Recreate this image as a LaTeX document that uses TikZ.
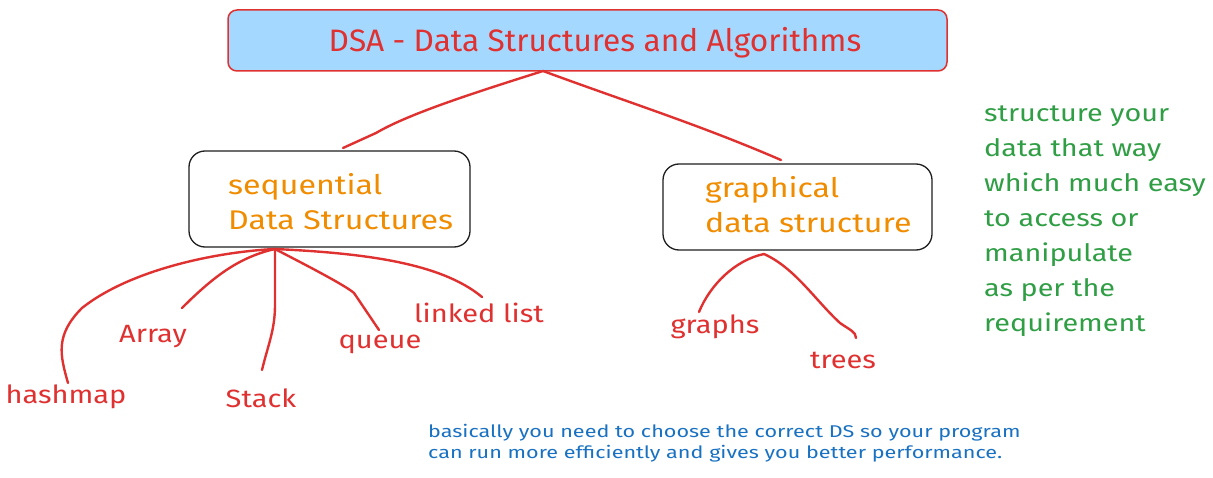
\documentclass[tikz,border=0pt]{standalone}
\usepackage{fontspec}
\setmainfont{Fira Sans}
\newfontfamily\titlefam[FakeStretch=1.02]{Fira Sans}
\newfontfamily\catfam[FakeStretch=1.19]{Fira Sans}
\newfontfamily\leaffam[FakeStretch=1.16]{Fira Sans}
\newfontfamily\notefam[FakeStretch=1.2]{Fira Sans}
\newfontfamily\remarkfam[FakeStretch=1.27]{Fira Sans}
\definecolor{exred}{HTML}{E03131}
\definecolor{exblue}{HTML}{A5D8FF}
\definecolor{exorange}{HTML}{F08C00}
\definecolor{exgreen}{HTML}{2F9E44}
\definecolor{exdblue}{HTML}{1971C2}
\definecolor{exblack}{HTML}{1E1E1E}
\begin{document}
\begin{tikzpicture}[x=1pt,y=-1pt,
  titlebox/.style={draw=exred,fill=exblue,line width=1.5pt,rounded corners=9pt,minimum width=719pt,minimum height=61pt,inner sep=0pt},
  catbox/.style={draw=exblack,line width=1.3pt,rounded corners=16pt,inner sep=0pt},
  cattext/.style={text=exorange,font=\catfam\fontsize{27}{35}\selectfont,align=left,anchor=north west,inner sep=0pt},
  leaf/.style={text=exred,font=\leaffam\fontsize{25}{28}\selectfont,inner sep=0pt},
  conn/.style={draw=exred,line width=2.4pt,line cap=round,line join=round},
  note/.style={text=exgreen,font=\notefam\fontsize{24}{35}\selectfont,align=left,anchor=north west,inner sep=0pt},
  remark/.style={text=exdblue,font=\remarkfam\fontsize{17}{21}\selectfont,align=left,anchor=north west,inner sep=0pt}]
\useasboundingbox (0,0) rectangle (1213,478);
\fill[white] (0,0) rectangle (1213,478);
% title
\node[titlebox] (title) at (587.5,40.5) {};
\node[text=exred,font=\titlefam\fontsize{31}{34}\selectfont,inner sep=0pt] (titletxt) at (595,43) {DSA - Data Structures and Algorithms};
% category boxes
\node[catbox,minimum width=281pt,minimum height=96pt] (seq) at (329.5,199) {};
\node[cattext] (seqtxt) at (228,173) {sequential\\Data Structures};
\node[catbox,minimum width=269pt,minimum height=86pt] (gra) at (797.5,207) {};
\node[cattext] (gratxt) at (705,176) {graphical\\data structure};
% coordinates
\coordinate (ts) at (543,71);
\coordinate (seqtop) at (343,148);
\coordinate (gratop) at (781,160);
\coordinate (sb) at (275,249);
\coordinate (gb) at (764,254);
% title connectors
\draw[conn] (ts) .. controls (480,91) and (410,113) .. (376,133) -- (seqtop);
\draw[conn] (ts) .. controls (630,103) and (700,125) .. (gratop);
% leaves
\node[leaf] (hash) at (66,397) {hashmap};
\node[leaf] (arr) at (153,337) {Array};
\node[leaf] (stack) at (261,398) {Stack};
\node[leaf] (queue) at (380,344) {queue};
\node[leaf] (ll) at (479,313) {linked list};
\node[leaf] (graphs) at (715,327) {graphs};
\node[leaf] (trees) at (843,360) {trees};
\coordinate (hashend) at (68,383);
\coordinate (arrend) at (182,308);
\coordinate (stackend) at (262,370);
\coordinate (queueend) at (379,330);
\coordinate (llend) at (482,297);
\coordinate (graphsend) at (699,312);
\coordinate (treesend) at (856,338);
\draw[conn] (sb) .. controls (215,252) and (130,270) .. (82,308) .. controls (55,335) and (60,355) .. (hashend);
\draw[conn] (sb) .. controls (240,257) and (215,275) .. (arrend);
\draw[conn] (sb) -- (275,305) .. controls (275,330) and (268,345) .. (stackend);
\draw[conn] (sb) .. controls (300,262) and (345,285) .. (354,293) -- (queueend);
\draw[conn] (sb) .. controls (360,253) and (440,262) .. (llend);
\draw[conn] (gb) .. controls (735,260) and (710,285) .. (graphsend);
\draw[conn] (gb) .. controls (795,268) and (815,300) .. (840,323) .. controls (850,330) and (856,332) .. (treesend);
% notes
\node[note] (green) at (984,106) {structure your\\data that way\\which much easy\\to access or\\manipulate\\as per the\\requirement};
\node[remark] (blue) at (428,424) {basically you need to choose the correct DS so your program\\can run more efficiently and gives you better performance.};
\end{tikzpicture}
\end{document}
